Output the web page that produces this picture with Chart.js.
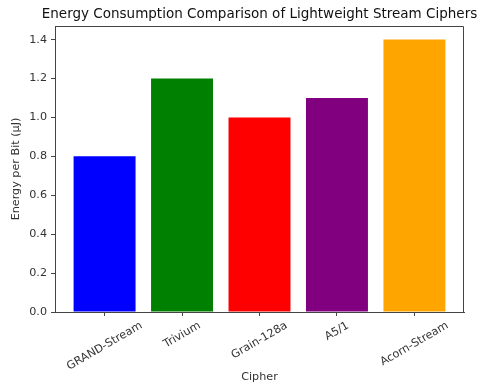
<!DOCTYPE html>
<html>
<head>
<meta charset="utf-8">
<script src="https://cdn.jsdelivr.net/npm/chart.js@4"></script>
<style>
  body { margin: 0; background: #fff; }
  #wrap { width: 480px; height: 387px; }
</style>
</head>
<body>
<div id="wrap"><canvas id="chart"></canvas></div>
<script>
const ciphers = ['GRAND-Stream', 'Trivium', 'Grain-128a', 'A5/1', 'Acorn-Stream'];
const energyPerBit = [0.8, 1.2, 1.0, 1.1, 1.4];
const barColors = ['blue', 'green', 'red', 'purple', 'orange'];
const yTicks = [0, 0.2, 0.4, 0.6, 0.8, 1.0, 1.2, 1.4];
const chartTitle = 'Energy Consumption Comparison of Lightweight Stream Ciphers';

const FONT = 'DejaVu Sans';
const FS = 11.2;
const TEXT = '#333';
const AXIS = '#444';

// draws the title over the axes, the top/right spines and centred rotated x labels (matplotlib style)
const mplLook = {
  id: 'mplLook',
  afterDraw(chart) {
    const { ctx, chartArea: a, scales } = chart;
    ctx.save();
    ctx.strokeStyle = AXIS;
    ctx.lineWidth = 1;
    ctx.beginPath();
    ctx.moveTo(Math.round(a.left) + 0.5, Math.round(a.top) + 0.5);
    ctx.lineTo(Math.round(a.right) - 0.5, Math.round(a.top) + 0.5);
    ctx.lineTo(Math.round(a.right) - 0.5, Math.round(a.bottom));
    ctx.stroke();

    ctx.fillStyle = '#111';
    ctx.font = '13.5px "' + FONT + '"';
    ctx.textAlign = 'center';
    ctx.textBaseline = 'middle';
    ctx.fillText(chartTitle, (a.left + a.right) / 2, a.top - 12);

    ctx.font = FS + 'px "' + FONT + '"';
    ctx.fillStyle = TEXT;
    const rot = 30 * Math.PI / 180;
    const top = a.bottom + 8;
    ciphers.forEach((name, i) => {
      const x = scales.x.getPixelForValue(i);
      const w = ctx.measureText(name).width;
      const bh = w * Math.sin(rot) + FS * Math.cos(rot);
      ctx.save();
      ctx.translate(x, top + bh / 2);
      ctx.rotate(-rot);
      ctx.fillText(name, 0, 0);
      ctx.restore();
    });
    ctx.restore();
  }
};

new Chart(document.getElementById('chart'), {
  type: 'bar',
  data: {
    datasets: [{
      data: energyPerBit.map((v, i) => ({ x: i, y: v })),
      backgroundColor: barColors,
      borderWidth: 0,
      barPercentage: 0.8,
      categoryPercentage: 1.0
    }]
  },
  options: {
    responsive: true,
    maintainAspectRatio: false,
    animation: false,
    layout: { padding: { left: 0, right: 16, top: 26, bottom: 0 } },
    plugins: {
      legend: { display: false },
      tooltip: { enabled: false },
      title: { display: false }
    },
    scales: {
      x: {
        type: 'linear',
        min: -0.64,
        max: 4.64,
        offset: false,
        afterBuildTicks: (s) => { s.ticks = ciphers.map((c, i) => ({ value: i })); },
        afterFit: (s) => { s.height = 75; },
        ticks: {
          autoSkip: false,
          minRotation: 30,
          maxRotation: 30,
          color: 'rgba(0,0,0,0)',
          font: { family: FONT, size: FS },
          callback: (v) => ciphers[v] || ''
        },
        grid: { offset: false, drawOnChartArea: false, drawTicks: true, tickLength: 4, color: AXIS },
        border: { display: true, color: AXIS, width: 1 },
        title: {
          display: true,
          text: 'Cipher',
          color: TEXT,
          font: { family: FONT, size: FS },
          padding: { top: 0, bottom: 3 }
        }
      },
      y: {
        min: 0,
        max: 1.47,
        afterBuildTicks: (s) => { s.ticks = yTicks.map(v => ({ value: v })); },
        afterFit: (s) => { s.width = 55; },
        ticks: {
          color: TEXT,
          padding: 4,
          font: { family: FONT, size: FS },
          callback: (v) => Number(v).toFixed(1)
        },
        grid: { drawOnChartArea: false, drawTicks: true, tickLength: 4, color: AXIS },
        border: { display: true, color: AXIS, width: 1 },
        title: {
          display: true,
          text: 'Energy per Bit (μJ)',
          color: TEXT,
          font: { family: FONT, size: FS },
          padding: { top: 9, bottom: 0 }
        }
      }
    }
  },
  plugins: [mplLook]
});
</script>
</body>
</html>
